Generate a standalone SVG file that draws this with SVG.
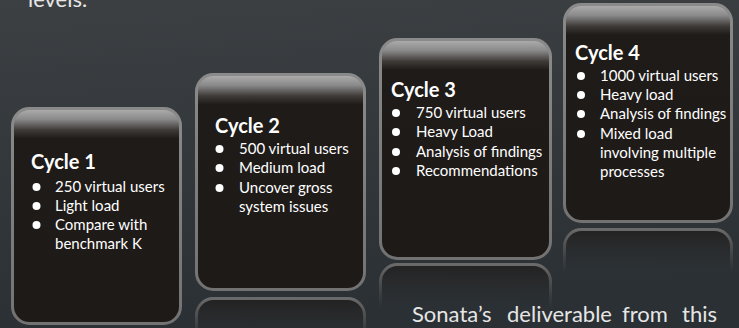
<svg xmlns="http://www.w3.org/2000/svg" width="739" height="328" viewBox="0 0 739 328">
<defs>
<linearGradient id="bg" x1="0" y1="0" x2="0.15" y2="1">
<stop offset="0" stop-color="#3c4043"/>
<stop offset="1" stop-color="#2a3034"/>
</linearGradient>
<linearGradient id="cardFill" x1="0" y1="0" x2="0" y2="1">
<stop offset="0" stop-color="#b0b0b0"/>
<stop offset="0.05" stop-color="#8a8a8a"/>
<stop offset="0.10" stop-color="#3e3a38"/>
<stop offset="0.14" stop-color="#1f1b19"/>
<stop offset="1" stop-color="#1e1a18"/>
</linearGradient>
<linearGradient id="cardStroke" x1="0" y1="0" x2="0" y2="1">
<stop offset="0" stop-color="#8a8a8a"/>
<stop offset="1" stop-color="#727272"/>
</linearGradient>
<linearGradient id="reflFill" x1="0" y1="0" x2="0" y2="1">
<stop offset="0" stop-color="#222020" stop-opacity="0.9"/>
<stop offset="0.2" stop-color="#2a2a2a" stop-opacity="0"/>
<stop offset="1" stop-color="#2a2a2a" stop-opacity="0"/>
</linearGradient>
<linearGradient id="reflStroke" x1="0" y1="0" x2="0" y2="1">
<stop offset="0" stop-color="#6a6a6a" stop-opacity="1"/>
<stop offset="0.2" stop-color="#5a5a5a" stop-opacity="0"/>
<stop offset="1" stop-color="#5a5a5a" stop-opacity="0"/>
</linearGradient>
</defs>
<style>
.card{fill:url(#cardFill);stroke:url(#cardStroke);stroke-width:3}
.refl{fill:url(#reflFill);stroke:url(#reflStroke);stroke-width:3}
.title{font-family:Lato,"Liberation Sans",sans-serif;font-weight:bold;font-size:20px;fill:#ffffff}
.item{font-family:Lato,"Liberation Sans",sans-serif;font-size:15px;fill:#ffffff}
.dot{fill:#ffffff}
.note{font-family:Lato,"Liberation Sans",sans-serif;font-size:22px;fill:#e6e6e6}
</style>
<rect x="0" y="0" width="739" height="328" fill="url(#bg)"/>
<text class="note" x="28" y="7">levels.</text>

<g id="cycle1">
<rect class="refl" x="12.5" y="331.5" width="168" height="215" rx="17"/>
<rect class="card" x="12.5" y="108.5" width="168" height="215" rx="17"/>
<text class="title" x="31" y="169">Cycle 1</text>
<circle class="dot" cx="36.5" cy="187" r="4"/>
<text class="item" x="55" y="192">250 virtual users</text>
<circle class="dot" cx="36.5" cy="206" r="4"/>
<text class="item" x="55" y="211">Light load</text>
<circle class="dot" cx="36.5" cy="225" r="4"/>
<text class="item" x="55" y="230">Compare with</text>
<text class="item" x="55" y="249">benchmark K</text>
</g>

<g id="cycle2">
<rect class="refl" x="196.5" y="298.5" width="168" height="215" rx="17"/>
<rect class="card" x="196.5" y="74.5" width="168" height="215" rx="17"/>
<text class="title" x="215" y="133">Cycle 2</text>
<circle class="dot" cx="219.5" cy="149" r="4"/>
<text class="item" x="239" y="154">500 virtual users</text>
<circle class="dot" cx="219.5" cy="168" r="4"/>
<text class="item" x="239" y="173">Medium load</text>
<circle class="dot" cx="219.5" cy="188" r="4"/>
<text class="item" x="239" y="193">Uncover gross</text>
<text class="item" x="239" y="212">system issues</text>
</g>

<g id="cycle3">
<rect class="refl" x="380.5" y="264.5" width="170" height="215" rx="17"/>
<rect class="card" x="380.5" y="39.5" width="170" height="219" rx="17"/>
<text class="title" x="391" y="97">Cycle 3</text>
<circle class="dot" cx="396" cy="113" r="4"/>
<text class="item" x="416" y="118">750 virtual users</text>
<circle class="dot" cx="396" cy="132" r="4"/>
<text class="item" x="416" y="137">Heavy Load</text>
<circle class="dot" cx="396" cy="152" r="4"/>
<text class="item" x="416" y="157">Analysis of findings</text>
<circle class="dot" cx="396" cy="171" r="4"/>
<text class="item" x="416" y="176">Recommendations</text>
</g>

<g id="cycle4">
<rect class="refl" x="564.5" y="229.5" width="167" height="215" rx="17"/>
<rect class="card" x="564.5" y="4.5" width="167" height="217" rx="17"/>
<text class="title" x="575" y="60">Cycle 4</text>
<circle class="dot" cx="581" cy="76" r="4"/>
<text class="item" x="600" y="81">1000 virtual users</text>
<circle class="dot" cx="581" cy="95" r="4"/>
<text class="item" x="600" y="100">Heavy load</text>
<circle class="dot" cx="581" cy="114" r="4"/>
<text class="item" x="600" y="119">Analysis of findings</text>
<circle class="dot" cx="581" cy="134" r="4"/>
<text class="item" x="600" y="139">Mixed load</text>
<text class="item" x="600" y="158">involving multiple</text>
<text class="item" x="600" y="177">processes</text>
</g>

<text class="note" y="322"><tspan x="412">Sonata’s</tspan><tspan x="507">deliverable</tspan><tspan x="622">from</tspan><tspan x="682">this</tspan></text>
</svg>
